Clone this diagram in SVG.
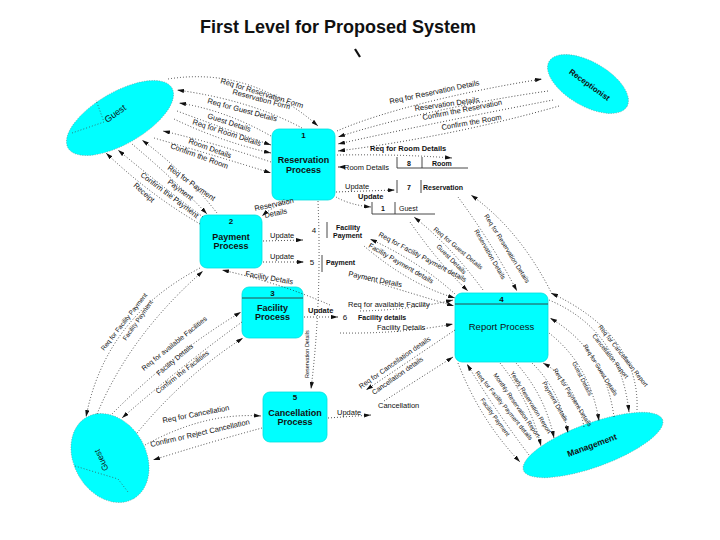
<svg xmlns="http://www.w3.org/2000/svg" width="720" height="540" viewBox="0 0 720 540">
<defs>
<style>
text{font-family:"Liberation Sans",Arial,sans-serif;fill:#111}
.t{font-size:7.5px}
.s{font-size:6.5px}
.x{font-size:6.2px}
.b{font-weight:bold}
.pn{font-size:9px;font-weight:bold;text-anchor:middle}
.st{font-size:7px;font-weight:bold}
.c{fill:none;stroke:#222;stroke-width:0.9;stroke-dasharray:0.9 2.1;marker-end:url(#ah)}
.n{fill:none;stroke:#444;stroke-width:0.8;stroke-dasharray:0.9 2.1}
.proc{fill:#00ffff;stroke:#00dede;stroke-width:0.8}
.ent{fill:#00ffff;stroke:#5a7a7a;stroke-width:0.5;stroke-dasharray:1 1.5}
.sl{stroke:#333;stroke-width:0.9;fill:none}
</style>
<marker id="ah" viewBox="0 0 10 6" refX="10" refY="3" markerWidth="7" markerHeight="4.2" markerUnits="userSpaceOnUse" orient="auto"><path d="M0,0 L10,3 L0,6 z" fill="#111"/></marker>
</defs>
<rect x="0" y="0" width="720" height="540" fill="#fff"/>
<text x="200" y="33" style="font-size:18px;font-weight:bold">First Level for Proposed System</text>
<path d="M355,49 L360,57" stroke="#111" stroke-width="2.2"/>

<g id="guest-top">
<ellipse class="ent" cx="120" cy="118" rx="60" ry="26" transform="rotate(-30 120 118)"/>
<path class="n" d="M72,133 L104,122 L96,100"/>
<text transform="translate(117,116) rotate(-35)" style="font-size:9px" text-anchor="middle">Guest</text>
</g>
<g id="receptionist">
<ellipse class="ent" cx="588" cy="84" rx="45" ry="22" transform="rotate(30 588 84)"/>
<text transform="translate(588,87) rotate(36)" style="font-size:8px;font-weight:bold" text-anchor="middle">Receptionist</text>
</g>
<g id="guest-bottom">
<ellipse class="ent" cx="110" cy="458" rx="47" ry="36" transform="rotate(60 110 458)"/>
<path class="n" d="M75,466 L118,479 L128,492"/>
<text transform="translate(104,459) rotate(245)" style="font-size:8.5px" text-anchor="middle">Guest</text>
</g>
<g id="management">
<ellipse class="ent" cx="593" cy="445" rx="74" ry="22" transform="rotate(-20 593 445)"/>
<text transform="translate(593,448) rotate(-20)" style="font-size:8.5px;font-weight:bold" text-anchor="middle">Management</text>
</g>

<g id="p1">
<rect class="proc" x="272" y="129" width="63" height="71" rx="7"/>
<text class="pn" x="303.5" y="138" style="font-size:8px">1</text>
<text class="pn" x="303.5" y="163">Reservation</text>
<text class="pn" x="303.5" y="173">Process</text>
</g>
<g id="p2">
<rect class="proc" x="200" y="215" width="62" height="53" rx="7"/>
<text class="pn" x="231" y="224" style="font-size:8px">2</text>
<text class="pn" x="231" y="240">Payment</text>
<text class="pn" x="231" y="249">Process</text>
</g>
<g id="p3">
<rect class="proc" x="242" y="287" width="61" height="51" rx="7"/>
<text class="pn" x="272.5" y="295.5" style="font-size:8px">3</text>
<path class="sl" d="M242,298 H303"/>
<text class="pn" x="272.5" y="311">Facility</text>
<text class="pn" x="272.5" y="320">Process</text>
</g>
<g id="p4">
<rect class="proc" x="455" y="293" width="93" height="69" rx="7"/>
<text class="pn" x="501.5" y="301.5" style="font-size:8px">4</text>
<path class="sl" d="M455,304 H548"/>
<text x="501.5" y="330" text-anchor="middle" style="font-size:9.5px">Report Process</text>
</g>
<g id="p5">
<rect class="proc" x="263" y="392" width="64" height="50" rx="7"/>
<text class="pn" x="295" y="400" style="font-size:8px">5</text>
<text class="pn" x="295" y="416">Cancellation</text>
<text class="pn" x="295" y="425">Process</text>
</g>

<g id="store-room">
<path class="sl" d="M397,157 V168 M422,157 V168 M397,168 H468"/>
<text class="st" x="409" y="166" text-anchor="middle">8</text>
<text class="st" x="432" y="166">Room</text>
</g>
<g id="store-reservation">
<path class="sl" d="M397,180 V193 M421,180 V193"/>
<text class="st" x="409" y="190" text-anchor="middle">7</text>
<text class="st" x="423" y="190">Reservation</text>
</g>
<g id="store-guest">
<path class="sl" d="M372,202 V214 M395,202 V214 M372,214 H435"/>
<text class="st" x="383" y="211" text-anchor="middle">1</text>
<text x="399" y="211" style="font-size:7px">Guest</text>
</g>
<g id="store-facility-payment">
<path class="sl" d="M327,222 V238"/>
<text x="314" y="233" text-anchor="middle" style="font-size:8px">4</text>
<text class="st" x="336" y="230">Facility</text>
<text class="st" x="333" y="238">Payment</text>
</g>
<g id="store-payment">
<path class="sl" d="M322,255 V272"/>
<text x="312" y="265" text-anchor="middle" style="font-size:8px">5</text>
<text class="st" x="326" y="265">Payment</text>
</g>
<g id="store-facility">
<text x="345" y="320" text-anchor="middle" style="font-size:8px">6</text>
<text class="st" x="358" y="320">Facility details</text>
</g>
<g id="store-cancellation">
<text class="t" x="378" y="408">Cancellation</text>
</g>

<g id="connectors">
<path class="c" d="M168,79 Q250,66 318,126"/>
<path class="c" d="M302,128 Q250,100 177,90"/>
<path class="c" d="M271,136 Q225,110 179,103"/>
<path class="c" d="M177,111 Q228,130 271,145"/>
<path class="c" d="M174,119 Q222,142 271,153"/>
<path class="c" d="M271,162 Q215,143 163,131"/>
<path class="c" d="M154,138 Q220,157 271,173"/>
<path class="c" d="M337,131 C380,112 460,92 542,79"/>
<path class="c" d="M548,91 C470,102 390,120 338,137"/>
<path class="c" d="M553,100 C480,114 400,130 338,144"/>
<path class="c" d="M559,106 C490,126 410,142 338,151"/>
<path class="c" d="M337,155 Q400,154 452,158"/>
<path class="c" d="M345,167 L338,167"/>
<path class="c" d="M336,192 L395,190"/>
<path class="c" d="M336,197 Q350,205 371,207"/>
<path class="c" d="M288,201 Q272,207 262,216"/>
<path class="c" d="M318,201 Q322,300 311,389"/>
<path class="c" d="M263,241 L303,240"/>
<path class="c" d="M263,262 L304,262"/>
<path class="c" d="M330,305 Q280,283 222,270"/>
<path class="c" d="M217,213 Q185,172 142,140"/>
<path class="c" d="M132,144 Q175,180 207,214"/>
<path class="c" d="M203,217 Q160,185 118,150"/>
<path class="c" d="M200,224 Q150,195 106,153"/>
<path class="c" d="M200,268 Q105,318 86,417"/>
<path class="c" d="M97,414 Q130,335 203,271"/>
<path class="c" d="M112,414 Q170,355 241,312"/>
<path class="c" d="M242,322 Q180,367 122,418"/>
<path class="c" d="M137,433 Q185,375 243,338"/>
<path class="c" d="M145,445 Q205,412 261,416"/>
<path class="c" d="M262,428 Q210,442 153,460"/>
<path class="c" d="M328,418 L371,415"/>
<path class="c" d="M455,330 L366,390"/>
<path class="c" d="M384,401 L453,357"/>
<path class="c" d="M304,317 L338,317"/>
<path class="c" d="M360,311 Q410,310 453,300"/>
<path class="c" d="M340,333 Q400,334 453,324"/>
<path class="c" d="M552,294 Q520,230 471,195"/>
<path class="c" d="M458,197 Q490,240 517,291"/>
<path class="c" d="M483,290 Q450,245 414,217"/>
<path class="c" d="M410,222 Q440,265 468,291"/>
<path class="c" d="M455,294 Q420,262 370,239"/>
<path class="c" d="M364,246 Q410,285 455,298"/>
<path class="c" d="M365,279 Q420,296 454,306"/>
<path class="c" d="M637,410 Q640,335 551,293"/>
<path class="c" d="M549,300 Q620,330 629,412"/>
<path class="c" d="M614,417 Q605,350 550,318"/>
<path class="c" d="M549,333 Q590,365 599,421"/>
<path class="c" d="M584,427 Q575,380 543,363"/>
<path class="c" d="M532,363 Q560,390 568,433"/>
<path class="c" d="M516,363 Q545,395 554,438"/>
<path class="c" d="M500,363 Q530,400 541,446"/>
<path class="c" d="M529,455 Q495,410 467,364"/>
<path class="c" d="M458,363 Q480,420 520,462"/>
</g>

<g id="connector-labels">
<text class="t" transform="translate(220,83) rotate(17)">Req for Reservation Form</text>
<text class="t" transform="translate(232,94) rotate(15)">Reservation Form</text>
<text class="t" transform="translate(207,103) rotate(15)">Req for Guest Details</text>
<text class="t" transform="translate(207,118) rotate(18)">Guest Details</text>
<text class="t" transform="translate(192,124) rotate(18)">Req for Room Details</text>
<text class="t" transform="translate(188,143) rotate(20)">Room Details</text>
<text class="t" transform="translate(170,148) rotate(20)">Confirm the Room</text>
<text class="t" transform="translate(390,104) rotate(-12)">Req for Reservation Details</text>
<text class="t" transform="translate(415,111) rotate(-8)">Reservation Details</text>
<text class="t" transform="translate(423,120) rotate(-11)">Confirm the Reservation</text>
<text class="t" transform="translate(442,130) rotate(-10)">Confirm the Room</text>
<text class="t b" x="370" y="151">Req for Room Details</text>
<text class="t" x="344" y="170">Room Details</text>
<text class="t" x="345" y="189">Update</text>
<text class="t b" x="358" y="199">Update</text>
<text class="t" transform="translate(255,211) rotate(-12)">Reservation</text>
<text class="t" transform="translate(265,218) rotate(-12)">Details</text>
<text class="t" transform="translate(167,169) rotate(35)">Req for Payment</text>
<text class="t" transform="translate(167,183) rotate(37)">Payment</text>
<text class="t" transform="translate(140,176) rotate(37)">Confirm the Payment</text>
<text class="t" transform="translate(133,186) rotate(42)">Receipt</text>
<text class="t" x="270" y="238">Update</text>
<text class="t" x="270" y="259">Update</text>
<text class="t" transform="translate(245,276) rotate(10)">Facility Details</text>
<text class="t" transform="translate(348,276) rotate(12)">Payment Details</text>
<text class="t" transform="translate(378,236) rotate(28)" style="font-size:7px">Req for Facility Payment details</text>
<text class="t" transform="translate(368,247) rotate(30)" style="font-size:7px">Facility Payment details</text>
<text class="s" transform="translate(433,230) rotate(40)">Req for Guest Details</text>
<text class="s" transform="translate(436,247) rotate(45)">Guest Details</text>
<text class="s" transform="translate(484,216) rotate(58)">Req for Reservation Details</text>
<text class="s" transform="translate(474,231) rotate(60)">Reservation Details</text>
<text class="s" transform="translate(104,351) rotate(-52)">Req for Facility Payment</text>
<text class="s" transform="translate(126,341) rotate(-55)">Facility Payment</text>
<text class="t" transform="translate(144,371) rotate(-39)" style="font-size:7px">Req for available Facilities</text>
<text class="t" transform="translate(159,376) rotate(-40)" style="font-size:7px">Facility Details</text>
<text class="t" transform="translate(158,394) rotate(-38)" style="font-size:7px">Confirm the Facilities</text>
<text class="t b" x="308" y="313">Update</text>
<text class="t" x="348" y="307">Req for available Facility</text>
<text class="t" x="377" y="330">Facility Details</text>
<text transform="translate(309,378) rotate(-90)" style="font-size:5.5px">Reservation Details</text>
<text class="t" transform="translate(361,389) rotate(-35)" style="font-size:7px">Req for Cancellation details</text>
<text class="t" transform="translate(374,395) rotate(-35)" style="font-size:7px">Cancellation details</text>
<text class="t" x="337" y="415">Update</text>
<text class="t" transform="translate(163,423) rotate(-11)">Req for Cancellation</text>
<text class="t" transform="translate(151,447) rotate(-13)">Confirm or Reject Cancellation</text>
<text class="x" transform="translate(598,327) rotate(52)">Req for Cancellation Report</text>
<text class="x" transform="translate(592,336) rotate(52)">Cancellation Report</text>
<text class="x" transform="translate(583,346) rotate(58)">Req for Guest Details</text>
<text class="x" transform="translate(572,363) rotate(63)">Guest Details</text>
<text class="x" transform="translate(553,370) rotate(58)">Req for Payment Details</text>
<text class="x" transform="translate(542,383) rotate(60)">Payment Details</text>
<text class="x" transform="translate(510,373) rotate(58)">Yearly Reservation Report</text>
<text class="x" transform="translate(493,375) rotate(55)">Monthly Reservation Report</text>
<text class="x" transform="translate(475,373) rotate(51)">Req for Facility Payment details</text>
<text class="x" transform="translate(480,400) rotate(54)">Facility Payment</text>
</g>
</svg>
